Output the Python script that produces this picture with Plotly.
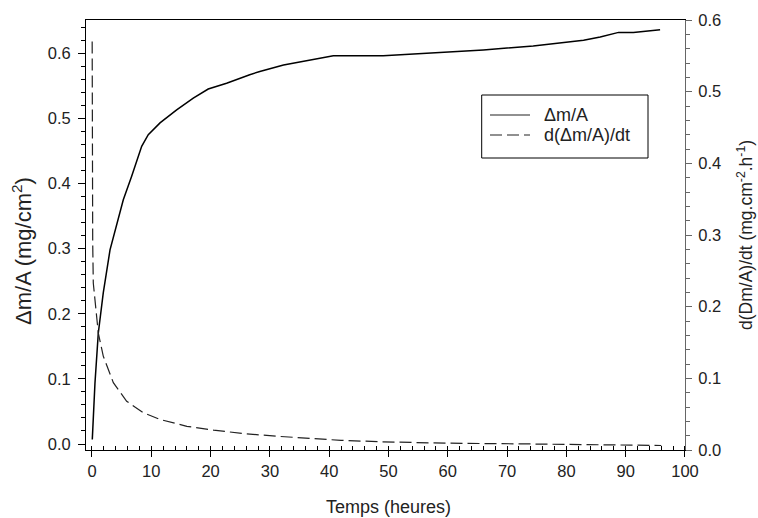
import plotly.graph_objects as go

# Data
t_mass = [0.05, 0.5, 1.06, 1.9, 3.04, 5.28, 6.69, 8.38, 9.49, 11.47, 14.28, 17.08,
          19.6, 22.7, 26.6, 28.3, 32.3, 36.5, 40.7, 49.1, 57.6, 66.0, 74.4, 82.9,
          85.7, 88.8, 91.3, 95.8]
mass = [0.007, 0.093, 0.170, 0.232, 0.298, 0.375, 0.411, 0.457, 0.475, 0.493, 0.513, 0.531,
        0.545, 0.554, 0.567, 0.572, 0.582, 0.589, 0.596, 0.596, 0.600, 0.605, 0.611, 0.620,
        0.625, 0.632, 0.632, 0.636]

t_rate = [0.03, 0.05, 0.08, 0.12, 0.22, 0.5, 1.06, 1.9, 3.6, 5.85, 8.65, 11.5, 16.0,
          20.5, 25.5, 31.0, 36.0, 42.0, 49.0, 60.0, 72.0, 83.0, 90.0, 96.0]
rate = [0.570, 0.45, 0.35, 0.29, 0.233, 0.21, 0.1635, 0.131, 0.094, 0.068, 0.052, 0.0426,
        0.033, 0.0277, 0.023, 0.0193, 0.0165, 0.0135, 0.0114, 0.0095, 0.0086, 0.0077,
        0.0070, 0.0063]

x_ticks = [0, 10, 20, 30, 40, 50, 60, 70, 80, 90, 100]
y_ticks = [0.0, 0.1, 0.2, 0.3, 0.4, 0.5, 0.6]

name_mass = "Δm/A"
name_rate = "d(Δm/A)/dt"
x_title = "Temps (heures)"
y_title = "Δm/A (mg/cm<sup>2</sup>)"
y2_title = "d(Dm/A)/dt (mg.cm<sup>-2</sup>.h<sup>-1</sup>)"

FONT = "Liberation Sans, Arial, sans-serif"
DASH = "12px,5px"
TXT = "#222222"

fig = go.Figure()
fig.add_trace(go.Scatter(x=t_mass, y=mass, mode="lines", name=name_mass,
                         line=dict(color="black", width=1.5), showlegend=False))
fig.add_trace(go.Scatter(x=t_rate, y=rate, mode="lines", name=name_rate, yaxis="y2",
                         line=dict(color=TXT, width=1.2, dash=DASH), showlegend=False))

W, H = 758, 518
L, R, T, B = 86, 685, 20, 450

def px(x):
    return (x - L) / (R - L)

def py(y):
    return (B - y) / (B - T)

axis_font = dict(family=FONT, size=16.5, color=TXT)

fig.update_layout(
    width=W, height=H,
    margin=dict(l=L, r=W - R, t=T, b=H - B),
    paper_bgcolor="white", plot_bgcolor="white",
    font=dict(family=FONT, color=TXT),
    xaxis=dict(range=[-1.01, 100.001], tickvals=x_ticks, ticks="outside", ticklen=6,
               tickcolor="black", showline=True, linecolor="black", linewidth=1,
               mirror=True, showgrid=False, zeroline=False, tickfont=axis_font,
               minor=dict(dtick=2, ticks="inside", ticklen=4, tickcolor="black", showgrid=False)),
    yaxis=dict(range=[-0.0092, 0.651], tickvals=y_ticks, tickformat=".1f", ticks="outside",
               ticklen=7, tickcolor="black", showline=True, linecolor="black", linewidth=1,
               showgrid=False, zeroline=False, tickfont=axis_font, ticklabelstandoff=4,
               minor=dict(dtick=0.02, tick0=0, ticks="outside", ticklen=4, tickcolor="black", showgrid=False)),
    yaxis2=dict(range=[0, 0.6], tickvals=y_ticks, tickformat=".1f", overlaying="y", side="right",
                ticks="outside", ticklen=6, tickcolor="#666666", showline=True, linecolor="#666666",
                linewidth=1, showgrid=False, zeroline=False, tickfont=axis_font, ticklabelstandoff=3,
                minor=dict(dtick=0.02, tick0=0, ticks="outside", ticklen=4, tickcolor="#666666", showgrid=False)),
    showlegend=False,
)

fig.add_annotation(text=x_title, xref="paper", yref="paper", x=px(388), y=py(507),
                   showarrow=False, font=dict(family=FONT, size=18, color=TXT),
                   xanchor="center", yanchor="middle")
fig.add_annotation(text=y_title, xref="paper", yref="paper", x=px(22), y=py(251),
                   showarrow=False, font=dict(family=FONT, size=22, color=TXT),
                   textangle=-90, xanchor="center", yanchor="middle")
fig.add_annotation(text=y2_title, xref="paper", yref="paper", x=px(745), y=py(235),
                   showarrow=False, font=dict(family=FONT, size=17.5, color=TXT),
                   textangle=-90, xanchor="center", yanchor="middle")

# Manual legend box
fig.add_shape(type="rect", xref="paper", yref="paper", x0=px(481.7), x1=px(648),
              y0=py(158), y1=py(95), line=dict(color="black", width=1), fillcolor="white", layer="above")
for yrow, dash, lbl in [(115, "solid", name_mass), (135, DASH, name_rate)]:
    fig.add_shape(type="line", xref="paper", yref="paper", x0=px(490), x1=px(530),
                  y0=py(yrow), y1=py(yrow), line=dict(color=TXT, width=1.2, dash=dash), layer="above")
    fig.add_annotation(text=lbl, xref="paper", yref="paper", x=px(542), y=py(yrow),
                       showarrow=False, xanchor="left", yanchor="middle",
                       font=dict(family=FONT, size=18, color=TXT))

fig.write_html("out.html", config={"displayModeBar": False},
               post_script="document.body.style.margin='0px';")
